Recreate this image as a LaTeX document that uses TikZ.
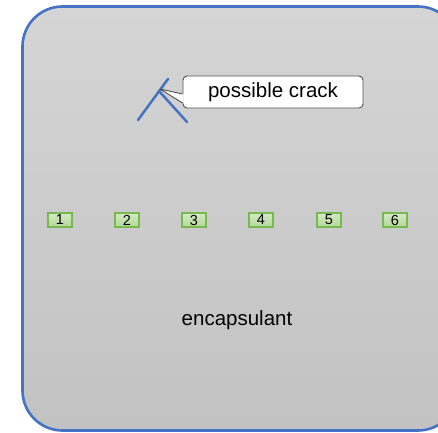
\documentclass[tikz,border=0pt]{standalone}
\usepackage{fontspec}
\setmainfont{Liberation Sans}
\definecolor{edgeblue}{RGB}{68,114,196}
\definecolor{cellfill}{RGB}{178,216,150}
\definecolor{celledge}{RGB}{120,185,80}
\definecolor{calloutedge}{RGB}{80,80,80}
\tikzset{
  cell/.style={draw=celledge, line width=1.5pt, top color=cellfill!55!white, bottom color=cellfill,
    minimum width=24pt, minimum height=14pt, inner sep=0pt, font=\fontsize{14.5}{14.5}\selectfont},
  crackline/.style={draw=edgeblue, line width=2.5pt},
}
\begin{document}
\begin{tikzpicture}[x=1pt,y=-1pt]
\useasboundingbox (0,0) rectangle (438,432);
% encapsulant box
\draw[edgeblue, line width=2.6pt, rounded corners=40pt,
  top color={rgb,255:red,213;green,213;blue,213}, bottom color={rgb,255:red,194;green,194;blue,194}]
  (22.5,6.5) rectangle (458,430.5);
\node[font=\fontsize{20.5}{21}\selectfont] (enc) at (237,320) {encapsulant};
% cells
\foreach \i/\x in {1/60,2/127,3/194,4/261,5/329,6/395}{
  \node[cell] (c\i) at (\x,220) {\i};
}
% crack
\coordinate (ca) at (138,120);
\coordinate (cb) at (168,79);
\coordinate (cj) at (159,91);
\coordinate (cc) at (187,122);
\draw[crackline, line cap=round] (ca) -- (cb);
\draw[crackline, line cap=round] (cj) -- (cc);
% callout
\node[draw=calloutedge, line width=0.9pt, fill=white, rounded corners=4pt,
  minimum width=180pt, minimum height=32pt, inner sep=0pt,
  font=\fontsize{20.5}{21}\selectfont] (call) at (273,92) {possible crack};
\coordinate (tip) at (160,89);
\coordinate (pa) at ([yshift=-11pt]call.west);
\coordinate (pb) at ([yshift=-2pt]call.west);
\fill[white] ([xshift=1pt]pa) -- (tip) -- ([xshift=1pt]pb) -- cycle;
\draw[calloutedge, line width=0.9pt, line join=round] (pa) -- (tip) -- (pb);
\end{tikzpicture}
\end{document}
